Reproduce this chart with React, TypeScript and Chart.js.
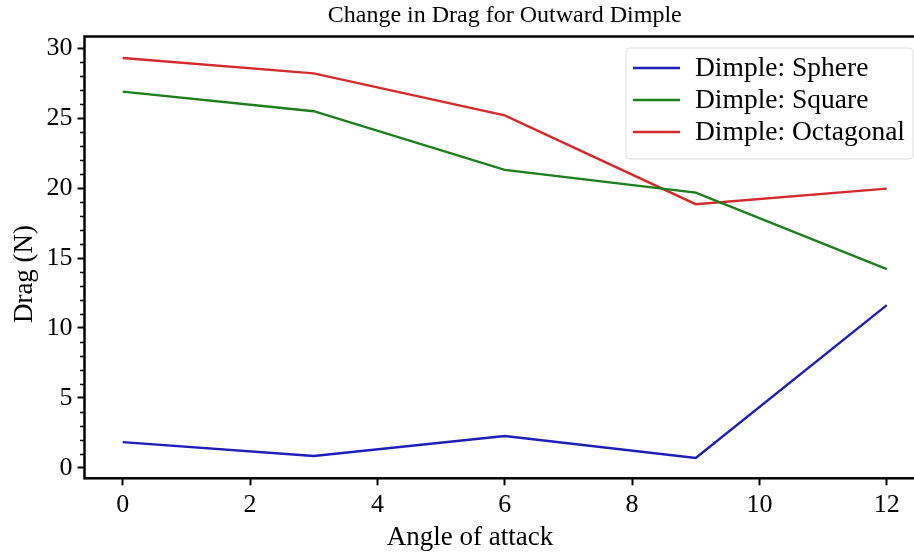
import React, { useEffect, useRef } from "react";
import { Chart, registerables } from "chart.js";

Chart.register(...registerables);

const angles = [0, 3, 6, 9, 12];
const sphere = [1.84, 0.84, 2.27, 0.7, 11.63];
const square = [26.9, 25.5, 21.3, 19.68, 14.2];
const octagonal = [29.3, 28.2, 25.2, 18.85, 19.96];
const seriesLabels = ["Dimple: Sphere", "Dimple: Square", "Dimple: Octagonal"];
const seriesColors = ["#1e1eb8", "#1b7f1b", "#d42a2a"];
const xTicks = [0, 2, 4, 6, 8, 10, 12];
const yTicks = [0, 5, 10, 15, 20, 25, 30];
const yMinorTicks = [1, 2, 3, 4, 6, 7, 8, 9, 11, 12, 13, 14, 16, 17, 18, 19, 21, 22, 23, 24, 26, 27, 28, 29];
const chartTitle = "Change in Drag for Outward Dimple";
const xTitle = "Angle of attack";
const yTitle = "Drag (N)";

const FONT = "'Liberation Serif', 'Times New Roman', serif";

const framePlugin = {
  id: "frameAndExtras",
  afterDraw(chart: any) {
    const { ctx, chartArea } = chart;
    const { left, right, top, bottom } = chartArea;
    ctx.save();
    // minor y ticks
    const ys = chart.scales.y;
    ctx.strokeStyle = "#000";
    ctx.lineWidth = 1.5;
    ctx.beginPath();
    for (const v of yMinorTicks) {
      const p = Math.round(ys.getPixelForValue(v)) + 0.5;
      ctx.moveTo(left - 4.5, p);
      ctx.lineTo(left, p);
    }
    ctx.stroke();
    // frame
    ctx.lineWidth = 2.5;
    ctx.strokeStyle = "#000";
    ctx.strokeRect(left, top, right - left, bottom - top);
    // title
    ctx.fillStyle = "#000";
    ctx.font = `24px ${FONT}`;
    ctx.textAlign = "center";
    ctx.textBaseline = "middle";
    ctx.fillText(chartTitle, (left + right) / 2, 16);
    // axis titles
    ctx.fillStyle = "#000";
    ctx.font = `27px ${FONT}`;
    ctx.textAlign = "center";
    ctx.textBaseline = "alphabetic";
    ctx.fillText(xTitle, 470, 545);
    ctx.save();
    ctx.translate(32, 274);
    ctx.rotate(-Math.PI / 2);
    ctx.fillText(yTitle, 0, 0);
    ctx.restore();
    // legend
    const lx = 626, ly = 48, lw = 287, lh = 111, r = 4;
    ctx.beginPath();
    ctx.moveTo(lx + r, ly);
    ctx.lineTo(lx + lw - r, ly);
    ctx.arcTo(lx + lw, ly, lx + lw, ly + r, r);
    ctx.lineTo(lx + lw, ly + lh - r);
    ctx.arcTo(lx + lw, ly + lh, lx + lw - r, ly + lh, r);
    ctx.lineTo(lx + r, ly + lh);
    ctx.arcTo(lx, ly + lh, lx, ly + lh - r, r);
    ctx.lineTo(lx, ly + r);
    ctx.arcTo(lx, ly, lx + r, ly, r);
    ctx.closePath();
    ctx.fillStyle = "rgba(255,255,255,0.85)";
    ctx.fill();
    ctx.strokeStyle = "#dddddd";
    ctx.lineWidth = 1;
    ctx.stroke();
    ctx.font = `27.5px ${FONT}`;
    ctx.textAlign = "left";
    ctx.textBaseline = "middle";
    chart.data.datasets.forEach((ds: any, i: number) => {
      const y = 68 + i * 32;
      ctx.strokeStyle = ds.borderColor;
      ctx.lineWidth = 2.4;
      ctx.beginPath();
      ctx.moveTo(633, y);
      ctx.lineTo(680, y);
      ctx.stroke();
      ctx.fillStyle = "#000";
      ctx.fillText(ds.label, 695, y + 1);
    });
    ctx.restore();
  },
};

export default function App() {
  const ref = useRef<HTMLCanvasElement | null>(null);
  useEffect(() => {
    document.body.style.margin = "0";
    const canvas = ref.current!;
    const values = [sphere, square, octagonal];
    const chart = new Chart(canvas, {
      type: "line",
      data: {
        datasets: values.map((vals, i) => ({
          label: seriesLabels[i],
          data: angles.map((a, j) => ({ x: a, y: vals[j] })),
          borderColor: seriesColors[i],
          backgroundColor: seriesColors[i],
          borderWidth: 2.4,
          pointRadius: 0,
          tension: 0,
          fill: false,
        })),
      },
      options: {
        responsive: false,
        animation: false,
        devicePixelRatio: 1,
        layout: { padding: { top: 36.5, right: 15, left: 0, bottom: 0 } },
        plugins: { legend: { display: false }, title: { display: false }, tooltip: { enabled: false } },
        scales: {
          x: {
            type: "linear",
            min: -0.6,
            max: 12.6,
            afterBuildTicks: (s: any) => {
              s.ticks = xTicks.map((v) => ({ value: v }));
            },
            afterFit: (s: any) => {
              s.height = 552 - 478.3;
            },
            border: { display: false },
            grid: { display: true, drawOnChartArea: false, drawTicks: true, tickLength: 7, tickWidth: 2, tickColor: "#000" },
            ticks: { color: "#000", font: { family: FONT, size: 26 }, padding: 4, maxRotation: 0, autoSkip: false },
            title: { display: false },
          },
          y: {
            type: "linear",
            min: -0.75,
            max: 30.84,
            afterBuildTicks: (s: any) => {
              s.ticks = yTicks.map((v) => ({ value: v }));
            },
            afterFit: (s: any) => {
              s.width = 84.5;
            },
            border: { display: false },
            grid: { display: true, drawOnChartArea: false, drawTicks: true, tickLength: 7, tickWidth: 2, tickColor: "#000" },
            ticks: { color: "#000", font: { family: FONT, size: 26 }, padding: 5, autoSkip: false },
            title: { display: false },
          },
        },
      },
      plugins: [framePlugin],
    } as any);
    return () => chart.destroy();
  }, []);
  return (
    <div style={{ position: "absolute", left: 0, top: 0, width: 914, height: 552, overflow: "hidden", background: "#fff" }}>
      <canvas ref={ref} width={940} height={552} style={{ display: "block", width: 940, height: 552 }} />
    </div>
  );
}
